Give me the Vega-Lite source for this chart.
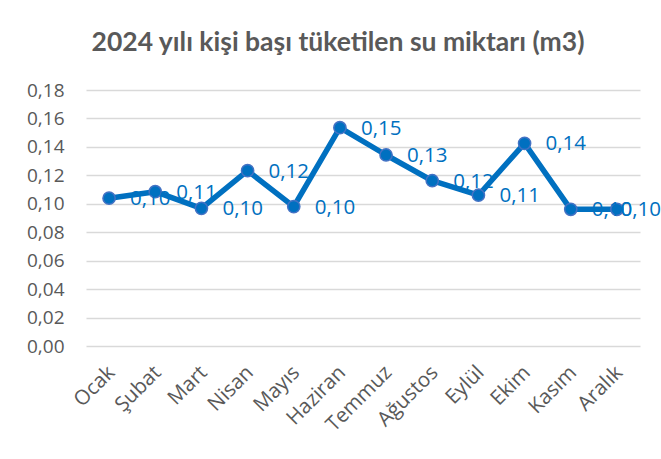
{
  "$schema": "https://vega.github.io/schema/vega-lite/v6.json",
  "width": 554,
  "height": 256,
  "autosize": {"type": "none"},
  "padding": {"left": 86, "top": 90, "right": 21, "bottom": 113},
  "background": "white",
  "title": {
    "text": "2024 yılı kişi başı tüketilen su miktarı (m3)",
    "font": "Lato",
    "fontSize": 26.5,
    "fontWeight": "bold",
    "color": "#595959",
    "anchor": "middle",
    "dx": -25,
    "offset": 25
  },
  "data": {
    "values": [
      {"ay": "Ocak", "deger": 0.1039},
      {"ay": "Şubat", "deger": 0.1085},
      {"ay": "Mart", "deger": 0.0968},
      {"ay": "Nisan", "deger": 0.1233},
      {"ay": "Mayıs", "deger": 0.0980},
      {"ay": "Haziran", "deger": 0.1535},
      {"ay": "Temmuz", "deger": 0.1343},
      {"ay": "Ağustos", "deger": 0.1162},
      {"ay": "Eylül", "deger": 0.1060},
      {"ay": "Ekim", "deger": 0.1425},
      {"ay": "Kasım", "deger": 0.0961},
      {"ay": "Aralık", "deger": 0.0961}
    ]
  },
  "encoding": {
    "x": {
      "field": "ay",
      "type": "nominal",
      "sort": null,
      "scale": {"padding": 0.5},
      "axis": {
        "title": null,
        "labelAngle": -45,
        "domain": false,
        "ticks": false,
        "labelPadding": 16,
        "labelOffset": -5,
        "labelFont": "Open Sans",
        "labelFontSize": 20.5,
        "labelColor": "#595959"
      }
    },
    "y": {
      "field": "deger",
      "type": "quantitative",
      "scale": {"domain": [0, 0.18], "nice": false},
      "axis": {
        "title": null,
        "values": [0, 0.02, 0.04, 0.06, 0.08, 0.1, 0.12, 0.14, 0.16, 0.18],
        "format": ".2f",
        "domain": false,
        "ticks": false,
        "grid": true,
        "gridColor": "#d9d9d9",
        "gridWidth": 1.5,
        "labelPadding": 22,
        "labelFont": "Open Sans",
        "labelFontSize": 19,
        "labelColor": "#595959"
      }
    }
  },
  "layer": [
    {
      "mark": {
        "type": "line",
        "color": "#0070C0",
        "strokeWidth": 5.5,
        "strokeJoin": "round",
        "point": {"filled": true, "size": 150, "color": "#0070C0", "stroke": "#4472C4", "strokeWidth": 1.5}
      }
    },
    {
      "transform": [{"filter": "datum.ay !== 'Aralık'"}],
      "mark": {
        "type": "text",
        "align": "left",
        "baseline": "middle",
        "dx": 21,
        "dy": 1,
        "font": "Open Sans",
        "fontSize": 20.5,
        "color": "#0070C0"
      },
      "encoding": {
        "text": {"field": "deger", "type": "quantitative", "format": ".2f"}
      }
    },
    {
      "transform": [{"filter": "datum.ay === 'Aralık'"}],
      "mark": {
        "type": "text",
        "align": "right",
        "baseline": "middle",
        "dx": 44,
        "dy": 1,
        "font": "Open Sans",
        "fontSize": 20.5,
        "color": "#0070C0"
      },
      "encoding": {
        "text": {"field": "deger", "type": "quantitative", "format": ".2f"}
      }
    }
  ],
  "config": {
    "view": {"stroke": null},
    "locale": {
      "number": {"decimal": ",", "thousands": ".", "grouping": [3], "currency": ["", " ₺"]}
    }
  }
}
